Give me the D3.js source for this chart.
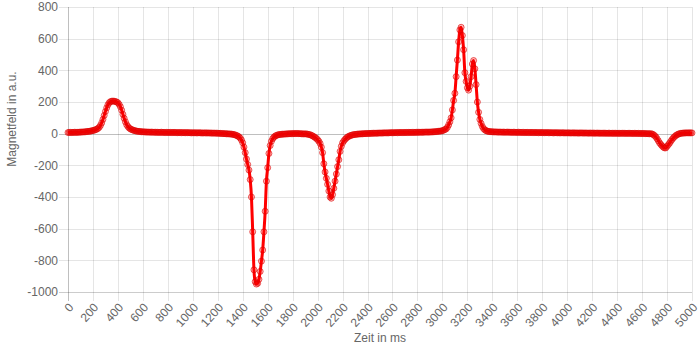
<!DOCTYPE html>
<html>
<head>
<meta charset="utf-8">
<script src="https://cdn.jsdelivr.net/npm/d3@7"></script>
<style>
body { margin: 0; background: #fff; }
text { font-family: Arial, "Liberation Sans", Helvetica, sans-serif; }
</style>
</head>
<body>
<script>
var w = 700;
var h = 350;

// one sample every 10 ms, starting at 0 ms
var step = 10;
var magnetfeld = [
    7, 8, 8, 7, 8, 9, 8, 8, 9, 9,
    10, 10, 11, 11, 12, 13, 14, 15, 16, 18,
    20, 22, 25, 28, 33, 40, 52, 68, 90, 115,
    140, 163, 182, 195, 202, 205, 206, 205, 203, 200,
    195, 185, 170, 148, 122, 97, 75, 57, 45, 36,
    30, 26, 23, 20, 18, 16, 15, 14, 13, 12,
    12, 11, 11, 10, 10, 10, 9, 10, 9, 9,
    9, 8, 9, 8, 8, 9, 8, 8, 7, 8,
    8, 7, 8, 7, 7, 8, 7, 7, 6, 7,
    7, 6, 7, 6, 6, 7, 6, 6, 6, 5,
    6, 5, 6, 5, 5, 6, 5, 5, 4, 5,
    5, 4, 5, 4, 4, 4, 3, 4, 3, 3,
    3, 2, 2, 1, 1, 0, 0, -1, -1, -2,
    -2, -3, -4, -6, -8, -11, -15, -20, -28, -40,
    -58, -85, -120, -160, -195, -230, -290, -400, -620, -860,
    -935, -950, -945, -920, -870, -805, -735, -620, -490, -300,
    -215, -125, -75, -48, -32, -22, -15, -11, -8, -6,
    -5, -4, -3, -3, -2, -2, -1, -1, 0, 0,
    0, 1, 0, 1, 1, 0, 0, -1, -1, -2,
    -1, -2, -3, -5, -7, -10, -14, -19, -24, -30,
    -38, -48, -62, -85, -120, -190, -242, -282, -320, -362,
    -400, -408, -385, -345, -300, -255, -208, -165, -112, -80,
    -58, -46, -36, -28, -21, -17, -13, -10, -8, -6,
    -5, -4, -3, -2, -2, -1, -1, 0, 0, 1,
    1, 1, 2, 2, 2, 3, 3, 3, 3, 4,
    4, 4, 4, 5, 5, 5, 5, 5, 6, 6,
    6, 6, 6, 7, 6, 7, 7, 7, 7, 7,
    7, 8, 7, 8, 8, 8, 8, 8, 8, 9,
    8, 9, 9, 9, 9, 9, 10, 10, 10, 10,
    10, 11, 11, 12, 12, 13, 14, 15, 16, 17,
    19, 22, 26, 30, 40, 55, 75, 100, 150, 210,
    255, 360, 465, 580, 655, 672, 620, 530, 385, 330,
    290, 275, 300, 360, 440, 462, 410, 310, 200, 135,
    90, 65, 45, 32, 24, 19, 16, 14, 13, 12,
    12, 11, 11, 11, 10, 10, 10, 10, 9, 10,
    9, 9, 10, 9, 9, 9, 8, 9, 9, 8,
    8, 9, 8, 8, 8, 8, 7, 8, 8, 7,
    7, 8, 7, 7, 7, 7, 7, 6, 7, 7,
    6, 7, 6, 6, 7, 6, 6, 6, 6, 5,
    6, 6, 5, 6, 5, 5, 6, 5, 5, 5,
    5, 5, 5, 4, 5, 5, 4, 5, 4, 4,
    4, 5, 4, 4, 4, 4, 4, 3, 4, 4,
    3, 4, 3, 3, 4, 3, 3, 3, 3, 3,
    3, 3, 2, 3, 3, 2, 3, 2, 2, 3,
    2, 2, 2, 2, 3, 2, 2, 2, 2, 2,
    2, 2, 2, 1, 2, 2, 1, 2, 1, 1,
    1, 1, 1, 0, 0, 0, -1, 0, -2, -6,
    -12, -20, -32, -45, -58, -68, -77, -85, -90, -90,
    -80, -70, -60, -48, -37, -27, -19, -12, -7, -3,
    0, 2, 3, 4, 4, 5, 5, 5, 5, 5,
    5
];

var xTicks = [0, 200, 400, 600, 800, 1000, 1200, 1400, 1600, 1800, 2000, 2200, 2400,
    2600, 2800, 3000, 3200, 3400, 3600, 3800, 4000, 4200, 4400, 4600, 4800, 5000];
var yTicks = [-1000, -800, -600, -400, -200, 0, 200, 400, 600, 800];

var xLabel = "Zeit in ms";
var yLabel = "Magnetfeld in a.u.";

var plotLeft = 68, plotRight = 692, plotTop = 7, plotBottom = 292;

var x = d3.scaleLinear().domain([0, 5000]).range([plotLeft, plotRight]);
var y = d3.scaleLinear().domain([-1000, 800]).range([plotBottom, plotTop]);

var svg = d3.select("body")
    .append("svg")
    .attr("width", w)
    .attr("height", h);

// grid lines (extend past the axes like tick marks)
svg.append("g")
    .selectAll("line")
    .data(yTicks)
    .enter()
    .append("line")
    .attr("x1", plotLeft - 9)
    .attr("x2", plotRight)
    .attr("y1", function (d) { return Math.round(y(d)) + 0.5; })
    .attr("y2", function (d) { return Math.round(y(d)) + 0.5; })
    .attr("stroke", function (d) {
        if (d === 0) return "rgba(0,0,0,0.25)";
        if (d === -1000) return "rgba(0,0,0,0.2)";
        return "rgba(0,0,0,0.1)";
    })
    .attr("stroke-width", 1);

svg.append("g")
    .selectAll("line")
    .data(xTicks)
    .enter()
    .append("line")
    .attr("x1", function (d) { return Math.round(x(d)) + 0.5; })
    .attr("x2", function (d) { return Math.round(x(d)) + 0.5; })
    .attr("y1", plotTop)
    .attr("y2", plotBottom + 9)
    .attr("stroke", function (d) {
        return d === 0 ? "rgba(0,0,0,0.25)" : "rgba(0,0,0,0.1)";
    })
    .attr("stroke-width", 1);

// y tick labels
svg.append("g")
    .selectAll("text")
    .data(yTicks)
    .enter()
    .append("text")
    .text(function (d) { return d; })
    .attr("x", plotLeft - 10)
    .attr("y", function (d) { return y(d); })
    .attr("dy", "0.35em")
    .attr("text-anchor", "end")
    .attr("font-size", 12)
    .attr("fill", "#666");

// x tick labels, rotated
svg.append("g")
    .selectAll("text")
    .data(xTicks)
    .enter()
    .append("text")
    .text(function (d) { return d; })
    .attr("transform", function (d) {
        return "translate(" + (x(d) + 3) + "," + (plotBottom + 13) + ") rotate(-48)";
    })
    .attr("dy", "0.35em")
    .attr("text-anchor", "end")
    .attr("font-size", 12)
    .attr("fill", "#666");

// axis titles
svg.append("text")
    .text(xLabel)
    .attr("x", (plotLeft + plotRight) / 2)
    .attr("y", 342)
    .attr("text-anchor", "middle")
    .attr("font-size", 12)
    .attr("fill", "#666");

svg.append("text")
    .text(yLabel)
    .attr("transform", "translate(16," + 119 + ") rotate(-90)")
    .attr("text-anchor", "middle")
    .attr("font-size", 12)
    .attr("fill", "#666");

// line + points
var line = d3.line()
    .x(function (d, i) { return x(i * step); })
    .y(function (d) { return y(d); })
    .curve(d3.curveMonotoneX);

svg.append("path")
    .datum(magnetfeld)
    .attr("d", line)
    .attr("fill", "none")
    .attr("stroke", "#ff0000")
    .attr("stroke-width", 3);

svg.append("g")
    .selectAll("circle")
    .data(magnetfeld)
    .enter()
    .append("circle")
    .attr("cx", function (d, i) { return x(i * step); })
    .attr("cy", function (d) { return y(d); })
    .attr("r", 3)
    .attr("fill", "rgba(255,0,0,0.25)")
    .attr("stroke", "rgba(220,0,0,0.6)")
    .attr("stroke-width", 1);
</script>
</body>
</html>
